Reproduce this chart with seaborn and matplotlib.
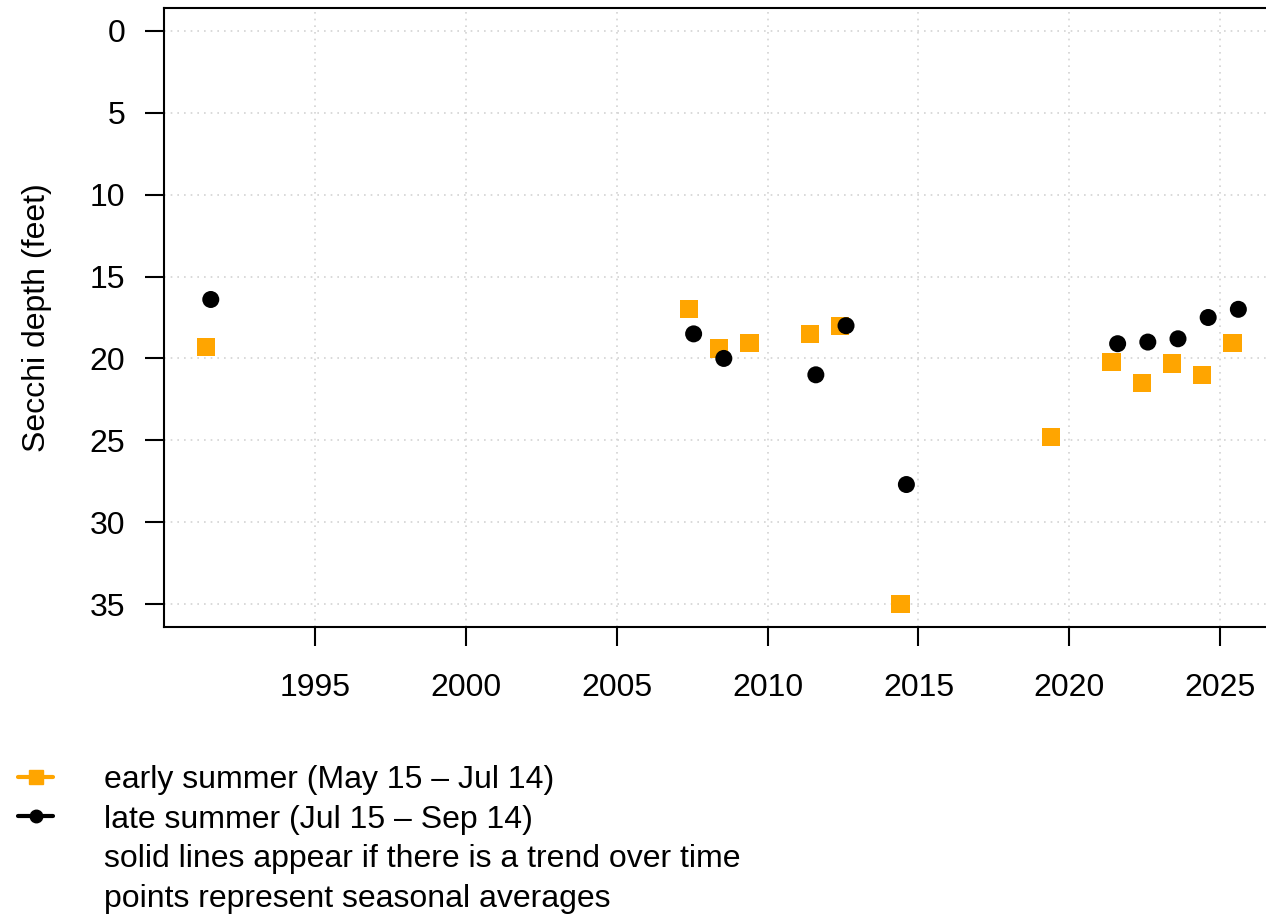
import numpy as np
import pandas as pd
import matplotlib
matplotlib.use("Agg")
import matplotlib.pyplot as plt
import seaborn as sns
from matplotlib.lines import Line2D

# ── data (seasonal averages) ──
early_year = [1991.4, 2007.4, 2008.4, 2009.4, 2011.4, 2012.4, 2014.4,
              2019.4, 2021.4, 2022.4, 2023.4, 2024.4, 2025.4]
early_depth = [19.3, 17.0, 19.4, 19.05, 18.5, 18.0, 35.0,
               24.8, 20.2, 21.5, 20.3, 21.0, 19.05]
late_year = [1991.55, 2007.55, 2008.55, 2011.6, 2012.6, 2014.6,
             2021.6, 2022.6, 2023.6, 2024.6, 2025.6]
late_depth = [16.4, 18.5, 20.0, 21.0, 18.0, 27.7,
              19.1, 19.0, 18.8, 17.5, 17.0]

y_ticks = [0, 5, 10, 15, 20, 25, 30, 35]
x_ticks = [1995, 2000, 2005, 2010, 2015, 2020, 2025]

early_lab = "early summer (May 15 \u2013 Jul 14)"
late_lab = "late summer (Jul 15 \u2013 Sep 14)"
note1 = "solid lines appear if there is a trend over time"
note2 = "points represent seasonal averages"

df = pd.concat([
    pd.DataFrame({"year": early_year, "depth": early_depth, "season": "early"}),
    pd.DataFrame({"year": late_year, "depth": late_depth, "season": "late"}),
])

sns.set_style("white")
plt.rcParams['font.family'] = ['Liberation Sans', 'DejaVu Sans']
plt.rcParams['font.size'] = 23
plt.rcParams['text.color'] = 'black'
plt.rcParams['axes.labelcolor'] = 'black'
plt.rcParams['xtick.color'] = 'black'
plt.rcParams['ytick.color'] = 'black'

fig = plt.figure(figsize=(12.66, 9.15), dpi=100)
ax_w = 1.002 - 164/1266
ax = fig.add_axes([164/1266, 1 - 627/915, ax_w, (627 - 8)/915])

ax.grid(True, color="#d3d3d3", linestyle=(0, (1, 3)), linewidth=1.2)
ax.set_axisbelow(True)

sns.scatterplot(data=df[df.season == "early"], x="year", y="depth", ax=ax,
                marker="s", s=175, color="orange", edgecolor="none", legend=False)
sns.scatterplot(data=df[df.season == "late"], x="year", y="depth", ax=ax,
                marker="o", s=150, color="black", edgecolor="none", legend=False)

ax.set_xlim(1990, 2026.6)
ax.set_ylim(36.4, -1.4)
ax.set_xticks(x_ticks)
ax.set_yticks(y_ticks)
ax.set_xlabel("")
ax.set_ylabel("Secchi depth (feet)", fontsize=23)
ax.yaxis.set_label_coords(-(164 - 52) / (1266 * ax_w), 0.5)

for sp in ax.spines.values():
    sp.set_color("black")
    sp.set_linewidth(1.5)
ax.tick_params(axis="both", direction="out", length=14, width=1.5,
               labelsize=23, left=True, bottom=True)
ax.tick_params(axis="y", pad=14)
ax.tick_params(axis="x", pad=19)

handles = [
    Line2D([], [], color="orange", lw=3, marker="s", markersize=10),
    Line2D([], [], color="black", lw=3, marker="o", markersize=9),
    Line2D([], [], color="none"),
    Line2D([], [], color="none"),
]
labels = [early_lab, late_lab, note1, note2]
fig.legend(handles, labels, loc="upper left", bbox_to_anchor=(18/1266, 1 - 765/915),
           frameon=False, fontsize=23, handlelength=1.1, handletextpad=1.6,
           labelspacing=0.3, borderaxespad=0, borderpad=0)

fig.savefig("out.png", dpi=100)
